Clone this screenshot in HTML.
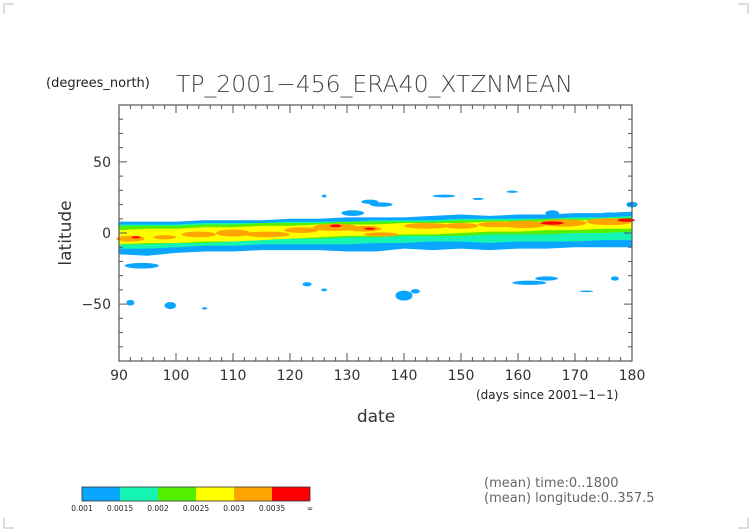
<!DOCTYPE html>
<html><head><meta charset="utf-8"><style>
html,body{margin:0;padding:0;background:#fff;}
svg{display:block;font-family:"DejaVu Sans","Liberation Sans",sans-serif;}
</style></head><body>
<svg id="c" width="752" height="532" viewBox="0 0 752 532">
<g stroke="#bbb" stroke-width="1">
<path d="M4 14V4H14M738 4H748V14M4 518V528H14M738 528H748V518" fill="none"/>
</g>
<text x="46" y="87" font-size="13" fill="#222">(degrees_north)</text>
<text x="176" y="92" font-size="23.5" fill="#444" font-weight="300">TP_2001−456_ERA40_XTZNMEAN</text>
<g id="field"></g>
<g id="axes"></g>
<text x="476" y="399" font-size="12" fill="#222">(days since 2001−1−1)</text>
<text x="376" y="422" font-size="17" fill="#333" text-anchor="middle">date</text>
<text transform="translate(71,233) rotate(-90)" font-size="17" fill="#333" text-anchor="middle">latitude</text>
<g id="cbar"></g>
<text x="484" y="487" font-size="13" fill="#666">(mean) time:0..1800</text>
<text x="484" y="502" font-size="13" fill="#666">(mean) longitude:0..357.5</text>
</svg>
<script>
const days=[90,95,100,105,110,115,120,125,130,135,140,145,150,155,160,165,170,175,180];
const blueUp=[8,8,8,9,9,9,10,10,11,11,11,12,13,12,13,13,14,14,15];
const blueLo=[-15,-16,-14,-13,-13,-12,-12,-12,-13,-13,-11,-12,-11,-12,-11,-11,-10,-10,-10];
const tealUp=[6,6,6,7,7,7,8,8,8,9,9,9,10,10,10,10,11,11,12];
const tealLo=[-11,-11,-10,-9,-9,-8,-8,-8,-8,-7,-7,-6,-6,-7,-6,-6,-6,-5,-5];
const greenUp=[5,5,5,6,6,7,7,7,8,8,8,8,9,9,9,10,10,10,11];
const greenLo=[-8,-8,-7,-7,-6,-5,-4,-4,-3,-3,-2,-2,-2,-1,-1,-1,0,0,1];
const yellowUp=[2,3,3,4,4,5,5,6,6,6,7,7,7,8,8,8,9,9,10];
const yellowLo=[-8,-7,-7,-6,-6,-5,-4,-3,-2,-2,-1,-1,0,1,1,2,2,3,3];
// patches: [day, lat, half-width days, half-height deg]
const orangePatches=[[92,-4,2.5,2],[98,-3,2,1.5],[104,-1,3,2],[110,0,3,2.5],[116,-1,4,2],[122,2,3,2],[128,4,4,2.5],[133,3,3,2],[136,-1,3,1.5],[144,5,4,2],[150,5,3,2],[156,6,3,2],[161,6,4,2.5],[168,7,4,2.5],[176,8,4,2.5]];
const redPatches=[[93,-3,0.8,0.8],[128,5,1,1],[134,3,1,0.8],[166,7,2,1.2],[179,9,1.5,1.2]];
const blueBlobs=[[92,-49,0.7,2],[99,-51,1,2.5],[105,-53,0.5,0.8],[94,-23,3,2],[123,-36,0.8,1.5],[126,26,0.4,1],[131,14,2,2],[140,-44,1.5,3.5],[142,-41,0.8,1.5],[147,26,2,1],[153,24,1,0.7],[159,29,1,0.8],[162,-35,3,1.5],[165,-32,2,1.5],[172,-41,1.2,0.6],[180,20,1,2],[166,14,1.2,2],[176,13,1.5,1.5],[177,-32,0.7,1.5],[134,22,1.5,1.5],[136,20,2,1.5],[126,-40,0.5,1]];
const xTicks=[90,100,110,120,130,140,150,160,170,180];
const yTicks=[-50,0,50];
const levels=["0.001","0.0015","0.002","0.0025","0.003","0.0035","∞"];
const colors=["#0aa5ff","#14f5b4","#55f000","#ffff00","#ffa500","#ff0000"];

const X0=119,X1=632,Y0=105,Y1=361;
const sx=d=>X0+(d-90)*(X1-X0)/90;
const sy=l=>Y0+(90-l)*(Y1-Y0)/180;
const NS="http://www.w3.org/2000/svg";
function mk(tag,attrs,parent){const e=document.createElementNS(NS,tag);for(const k in attrs)e.setAttribute(k,attrs[k]);parent.appendChild(e);return e;}
const field=document.getElementById('field');
function band(up,lo,col,name){
  let d="M"+days.map((t,i)=>sx(t)+" "+sy(up[i])).join(" L");
  d+=" L"+days.slice().reverse().map((t,j)=>{const i=days.length-1-j;return sx(t)+" "+sy(lo[i]);}).join(" L")+"Z";
  const p=mk('path',{d:d,fill:col},field);
  
  
}
function patches(arr,col,name){
  arr.forEach(a=>{
    const e=mk('ellipse',{cx:sx(a[0]),cy:sy(a[1]),rx:a[2]*(X1-X0)/90,ry:a[3]*(Y1-Y0)/180,fill:col},field);
    
    
  });
}
patches(blueBlobs,colors[0],'blue-blob');
band(blueUp,blueLo,colors[0],'band-0.001');
band(tealUp,tealLo,colors[1],'band-0.0015');
band(greenUp,greenLo,colors[2],'band-0.002');
band(yellowUp,yellowLo,colors[3],'band-0.0025');
patches(orangePatches,colors[4],'orange-patch');
patches(redPatches,colors[5],'red-patch');

const ax=document.getElementById('axes');
mk('rect',{x:X0,y:Y0,width:X1-X0,height:Y1-Y0,fill:'none',stroke:'#555','stroke-width':1.2},ax);
for(let d=90;d<=180;d+=2){const L=(d%10==0)?8:4;const x=sx(d);
  mk('line',{x1:x,x2:x,y1:Y1,y2:Y1-L,stroke:'#555'},ax);mk('line',{x1:x,x2:x,y1:Y0,y2:Y0+L,stroke:'#555'},ax);}
for(let l=-90;l<=90;l+=10){const L=(l%50==0)?8:4;const y=sy(l);
  mk('line',{x1:X0,x2:X0+L,y1:y,y2:y,stroke:'#555'},ax);mk('line',{x1:X1,x2:X1-L,y1:y,y2:y,stroke:'#555'},ax);}
xTicks.forEach(d=>{const t=mk('text',{x:sx(d),y:Y1+19,'font-size':14,fill:'#333','text-anchor':'middle'},ax);t.textContent=d;
  
  });
yTicks.forEach(l=>{const t=mk('text',{x:X0-8,y:sy(l)+5,'font-size':14,fill:'#333','text-anchor':'end'},ax);t.textContent=l==0?"0":(l<0?"−"+(-l):l);
  
  });

const cb=document.getElementById('cbar');
const cx0=82,cw=38,cy=487,ch=14;
colors.forEach((c,i)=>{const r=mk('rect',{x:cx0+i*cw,y:cy,width:cw,height:ch,fill:c},cb);
  
  });
mk('rect',{x:cx0,y:cy,width:cw*6,height:ch,fill:'none',stroke:'#333','stroke-width':0.8},cb);
levels.forEach((s,i)=>{const t=mk('text',{x:cx0+i*cw,y:cy+24,'font-size':7.5,fill:'#222','text-anchor':'middle'},cb);t.textContent=s;
  
  });
</script>
</body></html>
